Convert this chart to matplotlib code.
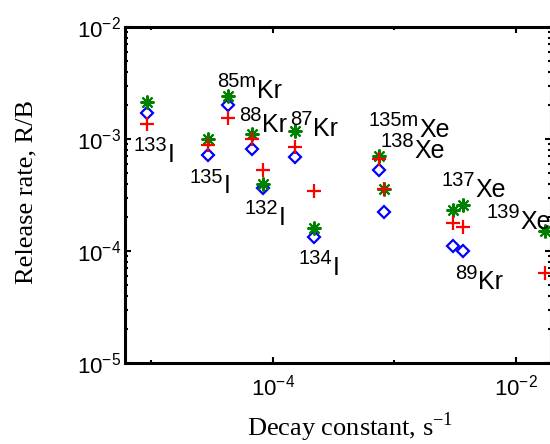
import numpy as np
import matplotlib
matplotlib.use('Agg')
import matplotlib.pyplot as plt
from matplotlib.ticker import FixedLocator, LogLocator, NullFormatter

# nuclides: mass number (superscript) and element symbol
mass = ['133', '135', '85m', '88', '132', '87', '134', '135m', '138', '137', '89', '139']
symbol = ['I', 'I', 'Kr', 'Kr', 'I', 'Kr', 'I', 'Xe', 'Xe', 'Xe', 'Kr', 'Xe']

# decay constants, s^-1
decay_const = [9.26e-6, 2.93e-5, 4.30e-5, 6.78e-5, 8.39e-5, 1.514e-4, 2.20e-4,
               7.56e-4, 8.20e-4, 3.02e-3, 3.67e-3, 1.746e-2]

# release rates R/B for the three data sets
rb_green = [2.14e-3, 1.00e-3, 2.41e-3, 1.11e-3, 3.99e-4, 1.19e-3, 1.61e-4,
            7.06e-4, 3.58e-4, 2.34e-4, 2.55e-4, 1.50e-4]
rb_blue = [1.71e-3, 7.21e-4, 2.00e-3, 8.15e-4, 3.66e-4, 6.97e-4, 1.32e-4,
           5.31e-4, 2.22e-4, 1.11e-4, 1.00e-4, np.nan]
rb_red = [1.35e-3, 8.85e-4, 1.53e-3, 1.00e-3, 5.31e-4, 8.44e-4, 3.40e-4,
          6.61e-4, 3.58e-4, 1.79e-4, 1.65e-4, 6.30e-5]

# label offsets (pixels) from the green marker: left edge, symbol baseline (down +)
label_offsets = [(-13.7, 60), (-18.3, 54.3), (-10.6, 1.3), (-13.4, -2.3),
                 (-18.6, 41), (-4.7, 5.3), (-15.7, 46.7), (-10.7, -19.3),
                 (-3.3, -31), (-10.7, -12.7), (-7.7, 84), (-59, -2.4)]

plt.rcParams['font.family'] = 'Liberation Sans'
plt.rcParams['mathtext.fontset'] = 'custom'
plt.rcParams['mathtext.rm'] = 'Liberation Sans'

fig = plt.figure(figsize=(5.5, 4.44), dpi=100)
ax = fig.add_axes([125 / 550, 1 - 363 / 444, 426 / 550, 336 / 444])
ax.set_xscale('log')
ax.set_yscale('log')

ax.plot(decay_const, rb_blue, 'D', ls='none', mfc='none', mec='#0000ff', ms=5.8, mew=1.6)
ax.plot(decay_const, rb_green, marker=(8, 2, 0), ls='none', mec='#008000', ms=10, mew=1.5)
ax.plot(decay_const, rb_red, '+', ls='none', mec='#ff0000', ms=10, mew=1.6)

# nuclide labels
for i in range(len(mass)):
    dx, dy = label_offsets[i]
    sup = ax.annotate(mass[i], xy=(decay_const[i], rb_green[i]),
                      xytext=(dx, -dy + 10.5), textcoords='offset pixels',
                      ha='left', va='baseline', fontsize=14.5)
    ax.annotate(symbol[i], xy=(1, 0), xycoords=sup,
                xytext=(0.5, -11.5), textcoords='offset pixels',
                ha='left', va='bottom', fontsize=18)

ax.set_xlim(10 ** -5.2156, 10 ** -1.7095)
ax.set_ylim(1e-5, 1e-2)

ax.xaxis.set_major_locator(FixedLocator([1e-4, 1e-2]))
ax.xaxis.set_minor_locator(FixedLocator([1e-5, 1e-3]))
ax.xaxis.set_minor_formatter(NullFormatter())
ax.yaxis.set_major_locator(LogLocator(base=10, numticks=10))
ax.yaxis.set_minor_locator(LogLocator(base=10, subs=np.arange(2, 10), numticks=10))
ax.yaxis.set_minor_formatter(NullFormatter())

ax.tick_params(which='both', direction='in', top=True, right=True, width=1.5, labelsize=16)
ax.tick_params(which='major', length=4)
ax.tick_params(which='minor', length=2)
ax.tick_params(axis='x', pad=8)
ax.tick_params(axis='y', pad=3)
for sp in ax.spines.values():
    sp.set_linewidth(2.2)

# axis titles in a serif face, placed as in the original figure
fig.text(350 / 550, 1 - 436 / 444, r'Decay constant, s$^{\mathdefault{-1}}$',
         family='Liberation Serif', fontsize=19, ha='center', va='baseline')
ax.set_ylabel('Release rate, R/B', fontfamily='Liberation Serif', fontsize=19)
ax.yaxis.set_label_coords(-0.205, 0.51)

fig.savefig('out.png', dpi=100)
